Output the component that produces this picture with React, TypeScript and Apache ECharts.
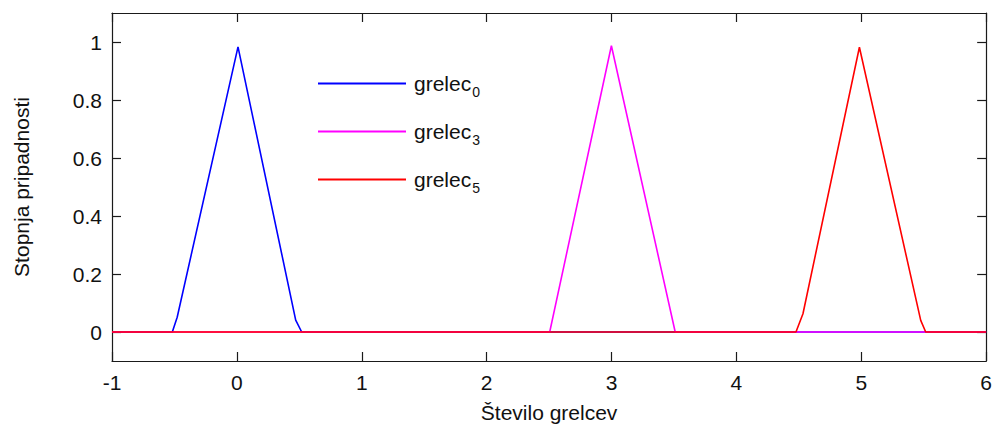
import React, { useEffect, useRef } from "react";
import * as echarts from "echarts";

const xTicks = [-1, 0, 1, 2, 3, 4, 5, 6];
const yTicks = [0, 0.2, 0.4, 0.6, 0.8, 1];
const seriesNames = ["grelec0", "grelec3", "grelec5"];
const subscripts = ["0", "3", "5"];
const colors = ["#0000ff", "#ff00ff", "#ff0000"];

const blueX = [-1, -0.517, -0.478, 0.009, 0.471, 0.519, 6];
const blueY = [0, 0, 0.051, 0.983, 0.041, 0, 0];
const magentaX = [-1, 2.505, 2.999, 3.51, 6];
const magentaY = [0, 0, 0.987, 0, 0];
const redX = [-1, 4.477, 4.533, 4.985, 5.476, 5.516, 6];
const redY = [0, 0, 0.063, 0.982, 0.04, 0, 0];

const zip = (xs: number[], ys: number[]) => xs.map((x, i) => [x, ys[i]]);

export default function App() {
  const ref = useRef<HTMLDivElement>(null);
  useEffect(() => {
    document.body.style.margin = "0";
    const chart = echarts.init(ref.current!, undefined, { renderer: "svg" });
    const font = "Arial, 'Liberation Sans', sans-serif";
    const fs = 21;
    const axisLine = { show: true, onZero: false, lineStyle: { color: "#1a1a1a", width: 1.2 } };
    const tick = { show: true, inside: true, length: 9, lineStyle: { color: "#1a1a1a", width: 1.2 } };
    const data = [zip(blueX, blueY), zip(magentaX, magentaY), zip(redX, redY)];
    chart.setOption({
      animation: false,
      textStyle: { fontFamily: font },
      grid: { left: 112, top: 13, right: 6, bottom: 63, containLabel: false },
      xAxis: [
        {
          type: "value",
          min: xTicks[0],
          max: xTicks[xTicks.length - 1],
          interval: 1,
          position: "bottom",
          axisLine,
          axisTick: tick,
          splitLine: { show: false },
          axisLabel: { color: "#111", fontSize: fs, margin: 11, fontFamily: font },
          name: "Število grelcev",
          nameLocation: "middle",
          nameGap: 41,
          nameTextStyle: { color: "#111", fontSize: fs, fontFamily: font },
        },
        {
          type: "value",
          min: xTicks[0],
          max: xTicks[xTicks.length - 1],
          interval: 1,
          position: "top",
          axisLine,
          axisTick: tick,
          splitLine: { show: false },
          axisLabel: { show: false },
        },
      ],
      yAxis: [
        {
          type: "value",
          min: -0.1,
          max: 1.1,
          position: "left",
          axisLine,
          axisTick: { ...tick, customValues: yTicks },
          splitLine: { show: false },
          axisLabel: {
            color: "#111",
            fontSize: fs,
            margin: 10,
            fontFamily: font,
            customValues: yTicks,
            formatter: (v: number) => String(Math.round(v * 10) / 10),
          },
          name: "Stopnja pripadnosti",
          nameLocation: "middle",
          nameGap: 80,
          nameTextStyle: { color: "#111", fontSize: fs, fontFamily: font },
        },
        {
          type: "value",
          min: -0.1,
          max: 1.1,
          position: "right",
          axisLine,
          axisTick: { ...tick, customValues: yTicks },
          splitLine: { show: false },
          axisLabel: { show: false, customValues: yTicks },
        },
      ],
      legend: {
        orient: "vertical",
        left: 318,
        top: 68,
        padding: 0,
        icon: "rect",
        itemWidth: 88,
        itemHeight: 2,
        itemGap: 17,
        data: seriesNames,
        formatter: (name: string) => `{a|grelec}{b|${subscripts[seriesNames.indexOf(name)]}}`,
        textStyle: {
          fontFamily: font,
          rich: {
            a: { fontSize: fs, color: "#111", fontFamily: font, lineHeight: 28, padding: [0, 0, 0, 3] },
            b: { fontSize: 14, color: "#111", fontFamily: font, lineHeight: 28, padding: [17, 0, 0, 1] },
          },
        },
      },
      series: seriesNames.map((n, i) => ({
        name: n,
        type: "line",
        data: data[i],
        symbol: "none",
        showSymbol: false,
        lineStyle: { color: colors[i], width: 1.6 },
        itemStyle: { color: colors[i] },
        z: 2 + i,
      })),
    });
    return () => chart.dispose();
  }, []);
  return <div ref={ref} style={{ width: 995, height: 428 }} />;
}
